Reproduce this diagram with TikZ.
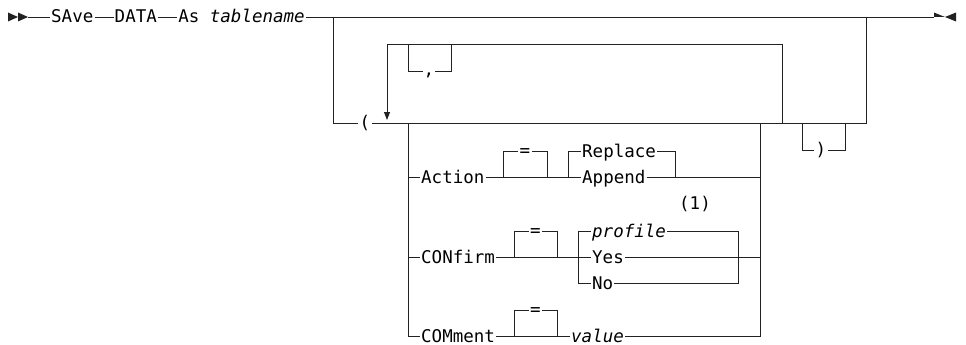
\documentclass[tikz,border=0pt]{standalone}
\usepackage{fontspec}
\setmonofont{DejaVu Sans Mono}
\usetikzlibrary{arrows.meta,positioning}
\definecolor{Rail}{HTML}{222222}

\begin{document}
\begin{tikzpicture}[
    x=1pt,y=-1pt,
    rail/.style={draw=Rail,line width=0.9pt},
    keyword/.style={
      font=\ttfamily\fontsize{17.5}{20}\selectfont,
      text height=12pt,text depth=0pt,
      inner ysep=0pt,inner xsep=1pt,
      anchor=west
    },
    symbol/.style={
      font=\ttfamily\fontsize{17.5}{20}\selectfont,
      text height=11.5pt,text depth=0pt,
      inner ysep=0pt,inner xsep=1.5pt
    }
  ]
  \useasboundingbox (0,0) rectangle (966,345);

  \coordinate (start) at (28,17);
  \coordinate (stop) at (934,17);
  \node[keyword] (save) at (50,17) {SAve};
  \node[keyword,right=19pt of save] (data) {DATA};
  \node[keyword,right=19pt of data] (tablename) {As \textit{tablename}};
  \draw[rail] (start) -- (save) (save) -- (data) (data) -- (tablename) (tablename) -- (stop);
  \fill[Rail] (start) -- ++(-10,-4.5) -- ++(0,9) -- cycle;
  \fill[Rail] (18,17) -- ++(-10,-4.5) -- ++(0,9) -- cycle;
  \fill[Rail] (stop) -- ++(0,-4.5) -- ++(11,4.5) -- cycle;
  \fill[Rail] (956,12.5) -- (945,17) -- (956,21.5) -- cycle;

  % optional group with repeat loop
  \node[symbol] (lparen) at (365,123) {(};
  \node[symbol] (rparen) at (821,150) {)};
  \node[keyword,anchor=center,text height=9pt] (comma) at (429,71) {,};
  \draw[rail] (333,17) |- (lparen);
  \draw[rail] (lparen) -- (866,123) -- (866,17);
  \draw[rail,-{Triangle[width=6pt,length=8pt]}] (782,123) |- (387,44) -- (387,120);
  \draw[rail] (408,44) |- (comma) -| (451,44);
  \draw[rail] (802,123) |- (rparen) -| (845,123);

  % Action
  \node[keyword] (action) at (420,177) {Action};
  \node[symbol] (eqA) at (525,151) {=};
  \node[keyword] (replace) at (581,151) {Replace};
  \node[keyword] (append) at (581,177) {Append};
  \draw[rail] (408,177) -- (action) (action) -- (append) (append) -- (760,177);
  \draw[rail] (503,177) |- (eqA) -| (547,177);
  \draw[rail] (568,177) |- (replace) (replace) -| (675,177);
  \node[symbol] (note) at (695,204) {(1)};

  % CONfirm
  \node[keyword] (confirm) at (420,257) {CONfirm};
  \node[symbol] (eqC) at (535.5,231) {=};
  \node[keyword] (profile) at (591,231) {\textit{profile}};
  \node[keyword] (yes) at (591,257) {Yes};
  \node[keyword] (no) at (591,283) {No};
  \draw[rail] (408,257) -- (confirm) (confirm) -- (yes) (yes) -- (760,257);
  \draw[rail] (514,257) |- (eqC) -| (557,257);
  \draw[rail] (profile) -- (578,231) |- (no);
  \draw[rail] (profile) -| (738,283) -- (no);

  % COMment
  \node[keyword] (comment) at (420,336) {COMment};
  \node[symbol] (eqM) at (535.5,310) {=};
  \node[keyword] (value) at (570,336) {\textit{value}};
  \draw[rail] (comment) -- (value);
  \draw[rail] (514,336) |- (eqM) -| (557,336);
  \draw[rail] (408,123) |- (comment);
  \draw[rail] (value) -| (760,123);
\end{tikzpicture}
\end{document}
